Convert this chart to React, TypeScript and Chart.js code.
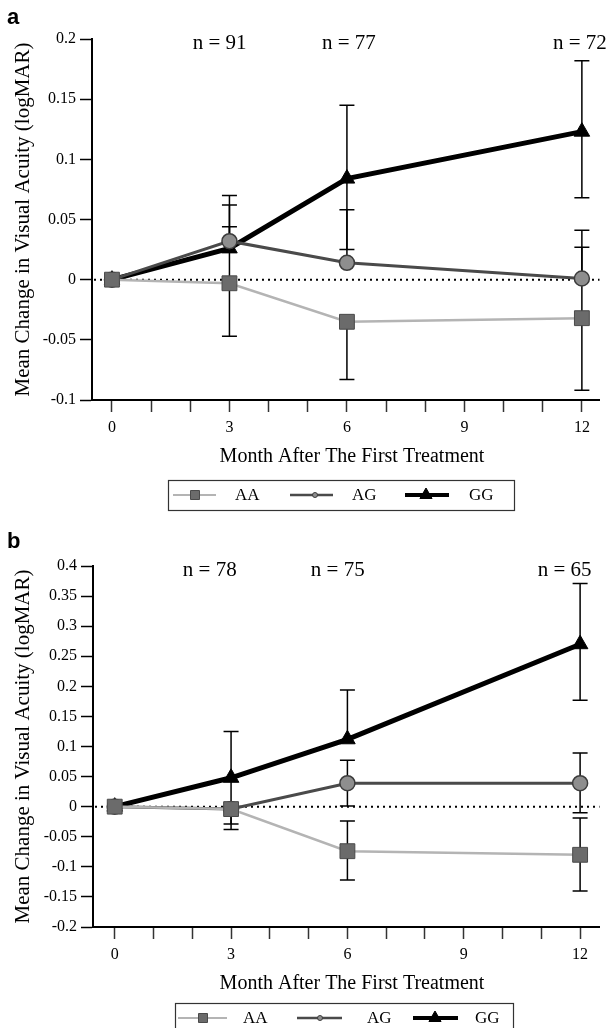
import React, { useEffect, useRef } from 'react';
import { Chart, registerables } from 'chart.js';
Chart.register(...registerables);

const SERIF = '"Liberation Serif", "Times New Roman", serif';
const SANS = '"Liberation Sans", Arial, sans-serif';

// ---------- shared data ----------
const months = [0, 3, 6, 12];
const xMinorTicks = [0, 1, 2, 3, 4, 5, 6, 7, 8, 9, 10, 11, 12];
const xLabeledTicks = [0, 3, 6, 9, 12];
const xTickLabels = ['0', '3', '6', '9', '12'];
const xTitle = 'Month After The First Treatment';
const yTitle = 'Mean Change in Visual Acuity (logMAR)';
const seriesNames = ['AA', 'AG', 'GG'];
const panelLetters = ['a', 'b'];

// ---------- panel a ----------
const aTicksY = [-0.1, -0.05, 0, 0.05, 0.1, 0.15, 0.2];
const aTickLabelsY = ['-0.1', '-0.05', '0', '0.05', '0.1', '0.15', '0.2'];
const aAA = [0, -0.003, -0.035, -0.032];
const aAALow = [null, -0.047, -0.083, -0.092];
const aAAHigh = [null, 0.044, null, 0.027];
const aAG = [0, 0.032, 0.014, 0.001];
const aAGLow = [null, null, null, null];
const aAGHigh = [null, 0.070, 0.058, 0.041];
const aGG = [0, 0.026, 0.084, 0.123];
const aGGLow = [null, null, 0.025, 0.068];
const aGGHigh = [null, 0.062, 0.145, 0.182];
const aNLabels = ['n = 91', 'n = 77', 'n = 72'];
const aNMonths = [2.75, 6.05, 11.95];

// ---------- panel b ----------
const bTicksY = [-0.2, -0.15, -0.1, -0.05, 0, 0.05, 0.1, 0.15, 0.2, 0.25, 0.3, 0.35, 0.4];
const bTickLabelsY = ['-0.2', '-0.15', '-0.1', '-0.05', '0', '0.05', '0.1', '0.15', '0.2', '0.25', '0.3', '0.35', '0.4'];
const bAA = [0, -0.004, -0.074, -0.080];
const bAALow = [null, -0.038, -0.122, -0.140];
const bAAHigh = [null, null, -0.024, -0.019];
const bAG = [0, -0.004, 0.039, 0.039];
const bAGLow = [null, null, 0.001, -0.010];
const bAGHigh = [null, null, 0.077, 0.089];
const bGG = [0, 0.048, 0.112, 0.270];
const bGGLow = [null, -0.029, null, 0.177];
const bGGHigh = [null, 0.125, 0.194, 0.371];
const bNLabels = ['n = 78', 'n = 75', 'n = 65'];
const bNMonths = [2.45, 5.75, 11.6];

// ---------- styles ----------
const STYLES = [
  { line: '#b4b4b4', width: 2.5, point: 'rect', radius: 10.5, fill: '#6b6b6b', border: '#4a4a4a', bw: 1 },
  { line: '#4a4a4a', width: 3, point: 'circle', radius: 7.5, fill: '#8e8e8e', border: '#3c3c3c', bw: 1.5 },
  { line: '#000000', width: 5, point: 'triangle', radius: 9, fill: '#000000', border: '#000000', bw: 1 },
];

type Panel = {
  letter: string;
  height: number;
  top: number;
  bottom: number;
  right: number;
  yAxisWidth: number;
  xMin: number;
  xMax: number;
  yMin: number;
  yMax: number;
  ticksY: number[];
  tickLabelsY: string[];
  series: { values: number[]; low: (number | null)[]; high: (number | null)[] }[];
  nLabels: string[];
  nMonths: number[];
  nValue: number;
  titleX: number;
  legend: { x: number; y: number; w: number; h: number; items: { x1: number; x2: number; mx: number; tx: number }[] };
};

const panels: Panel[] = [
  {
    letter: panelLetters[0],
    height: 520,
    top: 39,
    bottom: 400,
    right: 600,
    yAxisWidth: 92,
    xMin: -0.51,
    xMax: 12.45,
    yMin: -0.1,
    yMax: 0.2,
    ticksY: aTicksY,
    tickLabelsY: aTickLabelsY,
    series: [
      { values: aAA, low: aAALow, high: aAAHigh },
      { values: aAG, low: aAGLow, high: aAGHigh },
      { values: aGG, low: aGGLow, high: aGGHigh },
    ],
    nLabels: aNLabels,
    nMonths: aNMonths,
    nValue: 0.196,
    titleX: 352,
    legend: {
      x: 168, y: 480, w: 346, h: 30,
      items: [
        { x1: 173, x2: 216, mx: 195, tx: 235 },
        { x1: 290, x2: 333, mx: 315, tx: 352 },
        { x1: 405, x2: 449, mx: 426, tx: 469 },
      ],
    },
  },
  {
    letter: panelLetters[1],
    height: 508,
    top: 46,
    bottom: 407,
    right: 603,
    yAxisWidth: 93,
    xMin: -0.56,
    xMax: 12.5,
    yMin: -0.2,
    yMax: 0.4,
    ticksY: bTicksY,
    tickLabelsY: bTickLabelsY,
    series: [
      { values: bAA, low: bAALow, high: bAAHigh },
      { values: bAG, low: bAGLow, high: bAGHigh },
      { values: bGG, low: bGGLow, high: bGGHigh },
    ],
    nLabels: bNLabels,
    nMonths: bNMonths,
    nValue: 0.392,
    titleX: 352,
    legend: {
      x: 175, y: 483, w: 338, h: 30,
      items: [
        { x1: 178, x2: 227, mx: 203, tx: 243 },
        { x1: 297, x2: 342, mx: 320, tx: 367 },
        { x1: 413, x2: 458, mx: 435, tx: 475 },
      ],
    },
  },
];

const X_AXIS_HEIGHT = 69;

function drawMarker(ctx: CanvasRenderingContext2D, kind: string, x: number, y: number, r: number, fill: string, stroke: string) {
  ctx.save();
  ctx.fillStyle = fill;
  ctx.strokeStyle = stroke;
  ctx.lineWidth = 1;
  ctx.beginPath();
  if (kind === 'rect') {
    ctx.rect(x - r, y - r, 2 * r, 2 * r);
  } else if (kind === 'circle') {
    ctx.arc(x, y, r, 0, Math.PI * 2);
  } else {
    ctx.moveTo(x, y - r);
    ctx.lineTo(x + r * 0.87, y + r * 0.5);
    ctx.lineTo(x - r * 0.87, y + r * 0.5);
    ctx.closePath();
  }
  ctx.fill();
  ctx.stroke();
  ctx.restore();
}

function buildChart(canvas: HTMLCanvasElement, p: Panel) {
  const datasets = p.series.map((s, i) => ({
    label: seriesNames[i],
    data: months.map((m, j) => ({ x: m, y: s.values[j] })),
    errLow: s.low,
    errHigh: s.high,
    borderColor: STYLES[i].line,
    borderWidth: STYLES[i].width,
    pointStyle: STYLES[i].point,
    pointRadius: STYLES[i].radius,
    pointBackgroundColor: STYLES[i].fill,
    pointBorderColor: STYLES[i].border,
    pointBorderWidth: STYLES[i].bw,
    tension: 0,
    fill: false,
  }));

  const underlay = {
    id: 'underlay',
    beforeDatasetsDraw(chart: any) {
      const ctx = chart.ctx as CanvasRenderingContext2D;
      const xs = chart.scales.x;
      const ys = chart.scales.y;
      const area = chart.chartArea;
      // dotted zero line
      ctx.save();
      ctx.strokeStyle = '#000';
      ctx.lineWidth = 2;
      ctx.setLineDash([2, 4]);
      const y0 = ys.getPixelForValue(0);
      ctx.beginPath();
      ctx.moveTo(area.left + 2, y0);
      ctx.lineTo(area.right, y0);
      ctx.stroke();
      ctx.restore();
      // error bars
      ctx.save();
      ctx.strokeStyle = '#000';
      ctx.lineWidth = 1.5;
      chart.data.datasets.forEach((ds: any) => {
        months.forEach((m, j) => {
          const px = xs.getPixelForValue(m);
          const pv = ys.getPixelForValue(ds.data[j].y);
          [ds.errLow[j], ds.errHigh[j]].forEach((b: number | null) => {
            if (b === null || b === undefined) return;
            const pb = ys.getPixelForValue(b);
            ctx.beginPath();
            ctx.moveTo(px, pv);
            ctx.lineTo(px, pb);
            ctx.moveTo(px - 7.5, pb);
            ctx.lineTo(px + 7.5, pb);
            ctx.stroke();
          });
        });
      });
      ctx.restore();
    },
  };

  const overlay = {
    id: 'overlay',
    afterDraw(chart: any) {
      const ctx = chart.ctx as CanvasRenderingContext2D;
      const xs = chart.scales.x;
      const ys = chart.scales.y;
      ctx.save();
      // panel letter
      ctx.fillStyle = '#000';
      ctx.font = `bold 22px ${SANS}`;
      ctx.textAlign = 'left';
      ctx.textBaseline = 'alphabetic';
      ctx.fillText(p.letter, 7, p.letter === 'a' ? 24 : 28);
      // x-axis title
      ctx.font = `20px ${SERIF}`;
      ctx.textAlign = 'center';
      ctx.textBaseline = 'middle';
      ctx.fillText(xTitle, p.titleX, p.bottom + 57);
      // n labels
      ctx.font = `21px ${SERIF}`;
      p.nLabels.forEach((t, i) => {
        ctx.fillText(t, xs.getPixelForValue(p.nMonths[i]), ys.getPixelForValue(p.nValue));
      });
      // legend
      const L = p.legend;
      ctx.strokeStyle = '#333';
      ctx.lineWidth = 1.2;
      ctx.strokeRect(L.x + 0.5, L.y + 0.5, L.w, L.h);
      const cy = L.y + L.h / 2;
      L.items.forEach((it, i) => {
        const st = STYLES[i];
        ctx.save();
        ctx.strokeStyle = st.line;
        ctx.lineWidth = i === 0 ? 2 : i === 1 ? 2.5 : 4;
        ctx.beginPath();
        ctx.moveTo(it.x1, cy);
        ctx.lineTo(it.x2, cy);
        ctx.stroke();
        ctx.restore();
        if (i === 0) drawMarker(ctx, 'rect', it.mx, cy, 4.5, st.fill, st.border);
        else if (i === 1) drawMarker(ctx, 'circle', it.mx, cy, 2.5, st.fill, st.border);
        else drawMarker(ctx, 'triangle', it.mx, cy, 7, st.fill, st.border);
        ctx.fillStyle = '#000';
        ctx.font = `17px ${SERIF}`;
        ctx.textAlign = 'left';
        ctx.textBaseline = 'middle';
        ctx.fillText(seriesNames[i], it.tx, cy + 1);
      });
      ctx.restore();
    },
  };

  return new Chart(canvas, {
    type: 'line',
    data: { datasets: datasets as any },
    plugins: [underlay, overlay],
    options: {
      animation: false,
      responsive: false,
      devicePixelRatio: 1,
      layout: {
        padding: {
          left: 0,
          top: p.top,
          right: 611 - p.right,
          bottom: p.height - p.bottom - X_AXIS_HEIGHT,
        },
      },
      plugins: { legend: { display: false }, tooltip: { enabled: false } },
      scales: {
        x: {
          type: 'linear',
          min: p.xMin,
          max: p.xMax,
          afterBuildTicks: (s: any) => {
            s.ticks = xMinorTicks.map((v) => ({ value: v }));
          },
          afterFit: (s: any) => {
            s.height = X_AXIS_HEIGHT;
          },
          ticks: {
            autoSkip: false,
            maxRotation: 0,
            padding: 6,
            color: '#000',
            font: { family: SERIF, size: 16 },
            callback: (v: any) => {
              const k = xLabeledTicks.indexOf(Number(v));
              return k >= 0 ? xTickLabels[k] : '';
            },
          },
          grid: { drawOnChartArea: false, drawTicks: true, tickLength: 12, tickColor: '#333', tickWidth: 1.5 },
          border: { display: true, color: '#000', width: 2 },
          title: { display: false },
        },
        y: {
          type: 'linear',
          min: p.yMin,
          max: p.yMax,
          afterBuildTicks: (s: any) => {
            s.ticks = p.ticksY.map((v) => ({ value: v }));
          },
          afterFit: (s: any) => {
            s.width = p.yAxisWidth;
          },
          ticks: {
            padding: 4,
            color: '#000',
            font: { family: SERIF, size: 16 },
            callback: (v: any) => {
              const k = p.ticksY.findIndex((t) => Math.abs(t - Number(v)) < 1e-9);
              return k >= 0 ? p.tickLabelsY[k] : '';
            },
          },
          grid: { drawOnChartArea: false, drawTicks: true, tickLength: 12, tickColor: '#000', tickWidth: 1.5 },
          border: { display: true, color: '#000', width: 2 },
          title: {
            display: true,
            text: yTitle,
            color: '#000',
            font: { family: SERIF, size: 21 },
            padding: { top: 11, bottom: 0 },
          },
        },
      },
    } as any,
  });
}

function PanelChart({ panel }: { panel: Panel }) {
  const ref = useRef<HTMLCanvasElement | null>(null);
  useEffect(() => {
    if (!ref.current) return;
    const chart = buildChart(ref.current, panel);
    return () => chart.destroy();
  }, [panel]);
  return (
    <canvas
      ref={ref}
      width={611}
      height={panel.height}
      style={{ display: 'block', width: 611, height: panel.height }}
    />
  );
}

export default function App() {
  return (
    <div
      style={{
        position: 'absolute',
        left: 0,
        top: 0,
        width: 611,
        height: 1028,
        overflow: 'hidden',
        background: '#fff',
      }}
    >
      {panels.map((p) => (
        <PanelChart key={p.letter} panel={p} />
      ))}
    </div>
  );
}
